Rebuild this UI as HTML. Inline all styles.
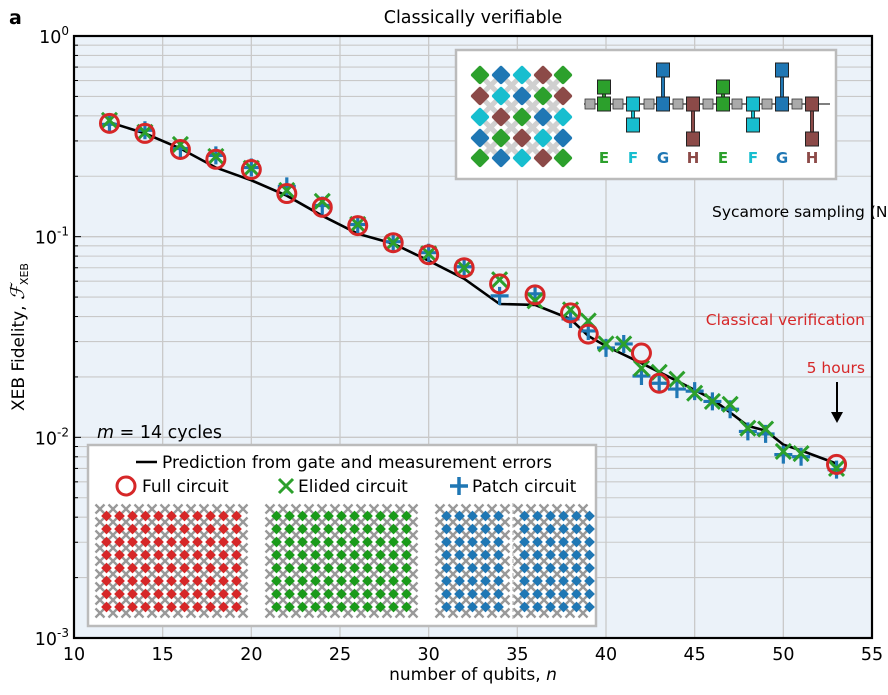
<!DOCTYPE html>
<html><head><meta charset="utf-8">
<style>
body{margin:0;background:#fff;width:888px;height:691px;overflow:hidden;font-family:"DejaVu Sans","Liberation Sans",sans-serif;}
svg text{font-family:"DejaVu Sans","Liberation Sans",sans-serif;}
</style></head>
<body>
<svg id="chart" width="888" height="691" viewBox="0 0 888 691" xmlns="http://www.w3.org/2000/svg">
<text x="9" y="24" font-size="19" font-weight="bold">a</text>
<text x="473" y="23" font-size="17.5" text-anchor="middle">Classically verifiable</text>
<rect x="74" y="36" width="798" height="602" fill="#ebf2f9"/>
<g id="grid"></g>
<g id="series"></g>
<g id="axes"></g>
<g id="annot"></g>
<g id="inset"></g>
<g id="legend"></g>
</svg>
<script>
const fullN=[12,14,16,18,20,22,24,26,28,30,32,34,36,38,39,42,43,53];
const fullF=[0.367,0.327,0.272,0.243,0.216,0.164,0.140,0.1135,0.0933,0.0813,0.070,0.0582,0.0513,0.0417,0.0327,0.0263,0.0186,0.00733];
const elidedN=[12,14,16,18,20,22,24,26,28,30,32,34,36,38,39,40,41,42,43,44,45,46,47,48,49,50,51,53];
const elidedF=[0.380,0.331,0.288,0.251,0.219,0.170,0.150,0.115,0.0933,0.0822,0.070,0.061,0.0479,0.0432,0.038,0.0292,0.0292,0.0221,0.0211,0.0195,0.0166,0.0151,0.0146,0.0111,0.0110,0.0085,0.0083,0.0070];
const patchN=[12,14,16,18,20,22,24,26,28,30,32,34,36,38,39,40,41,42,43,44,45,46,47,48,49,50,51,53];
const patchF=[0.363,0.339,0.275,0.254,0.221,0.178,0.143,0.115,0.0944,0.0832,0.0708,0.0507,0.0519,0.0389,0.0339,0.0279,0.0292,0.0202,0.0186,0.0174,0.0170,0.0151,0.0138,0.0107,0.0104,0.0082,0.0080,0.0069];
const predN=[12,14,16,18,20,22,24,26,28,30,32,34,36,38,39,40,42,44,46,48,49,50,51,53];
const predF=[0.372,0.327,0.275,0.221,0.191,0.160,0.127,0.1035,0.0923,0.0759,0.0617,0.0462,0.0457,0.0389,0.032,0.0285,0.0234,0.0191,0.0155,0.0114,0.0108,0.0092,0.0086,0.0074];
const xTicks=[10,15,20,25,30,35,40,45,50,55];
const yDecades=[0,-1,-2,-3];

const NS="http://www.w3.org/2000/svg";
const L=74,R=872,T=36,B=638;
const xs=n=>L+(n-10)*(R-L)/45;
const ys=v=>T-Math.log10(v)*(B-T)/3;
function mk(tag,attrs,parent){const e=document.createElementNS(NS,tag);for(const k in attrs)e.setAttribute(k,attrs[k]);parent.appendChild(e);return e;}
const grid=document.getElementById('grid'),axes=document.getElementById('axes'),series=document.getElementById('series');

for(const t of xTicks){const g=mk('line',{x1:xs(t),x2:xs(t),y1:T,y2:B,stroke:'#c9c9c9','stroke-width':1.3},grid);

}
for(let d=-3;d<0;d++){for(let m=1;m<10;m++){const v=m*Math.pow(10,d);const y=ys(v);
const g=mk('line',{x1:L,x2:R,y1:y,y2:y,stroke:'#c9c9c9','stroke-width':m===1?1.3:1.1},grid);


const tk=mk('line',{x1:L,x2:L+(m===1?7:4),y1:y,y2:y,stroke:'#000','stroke-width':1},axes);

}}

const fr=mk('rect',{x:L,y:T,width:R-L,height:B-T,fill:'none',stroke:'#000','stroke-width':2.2},axes);


for(const t of xTicks){const tx=mk('text',{x:xs(t),y:B+22,'font-size':17.5,'text-anchor':'middle'},axes);tx.textContent=t;

}
for(const d of yDecades){const y=ys(Math.pow(10,d));const tx=mk('text',{x:L-5,y:y+7,'font-size':17.5,'text-anchor':'end'},axes);
tx.innerHTML='10<tspan dy="-8" font-size="12">'+d+'</tspan>';

}
const xl=mk('text',{x:473,y:680,'font-size':17,'text-anchor':'middle'},axes);
xl.innerHTML='number of qubits, <tspan font-style="italic">n</tspan>';


const yl=mk('text',{x:0,y:0,'font-size':17,'text-anchor':'middle',transform:'translate(24,337) rotate(-90)'},axes);
yl.innerHTML='XEB Fidelity, <tspan font-family="Liberation Serif" font-style="italic" font-size="19">ℱ</tspan><tspan dy="4" font-size="11">XEB</tspan>';



let p='';predN.forEach((n,i)=>{p+=(i?'L':'M')+xs(n).toFixed(1)+','+ys(predF[i]).toFixed(1);});
const pl=mk('path',{d:p,fill:'none',stroke:'#000','stroke-width':2.6},series);


patchN.forEach((n,i)=>{const x=xs(n),y=ys(patchF[i]);
const g=mk('path',{d:`M${x-9},${y}H${x+9}M${x},${y-9}V${y+9}`,stroke:'#1f77b4','stroke-width':3.2,fill:'none'},series);

});
elidedN.forEach((n,i)=>{const x=xs(n),y=ys(elidedF[i]);
const g=mk('path',{d:`M${x-7.5},${y-7.5}L${x+7.5},${y+7.5}M${x-7.5},${y+7.5}L${x+7.5},${y-7.5}`,stroke:'#2ca02c','stroke-width':3,fill:'none'},series);

});
fullN.forEach((n,i)=>{const g=mk('circle',{cx:xs(n),cy:ys(fullF[i]),r:9,fill:'none',stroke:'#d62728','stroke-width':3},series);

});

const an=document.getElementById('annot');
let t1=mk('text',{x:712,y:217,'font-size':15.5},an);t1.textContent='Sycamore sampling (N';


let t2=mk('text',{x:865,y:325,'font-size':15.5,'text-anchor':'end',fill:'#d62728'},an);t2.textContent='Classical verification';


let t3=mk('text',{x:865,y:373,'font-size':15.5,'text-anchor':'end',fill:'#d62728'},an);t3.textContent='5 hours';


let ar=mk('path',{d:'M837,382V414',stroke:'#000','stroke-width':2},an);


let ah=mk('path',{d:'M831,412L837,423L843,412Z',fill:'#000'},an);


let t4=mk('text',{x:97,y:438,'font-size':17.5},an);t4.innerHTML='<tspan font-style="italic">m</tspan> = 14 cycles';



const ins=document.getElementById('inset');
let ib=mk('rect',{x:456,y:50,width:380,height:129,fill:'#fff',stroke:'#bbb','stroke-width':2.5},ins);


const C={E:'#2ca02c',F:'#17becf',G:'#1f77b4',H:'#8c4a48'};
const pat=[['E','G','F','H','E'],['H','F','G','E','H'],['F','H','E','G','F'],['G','E','H','F','G'],['E','G','F','H','E']];
const ix=[480,501,522,543,563],iy=[75,96,117,138,158];
for(let r=0;r<4;r++)for(let c=0;c<4;c++){const x=(ix[c]+ix[c+1])/2,y=(iy[r]+iy[r+1])/2;
mk('path',{d:`M${x-10},${y-10}L${x+10},${y+10}M${x-10},${y+10}L${x+10},${y-10}`,stroke:'#d0d0d0','stroke-width':5},ins);}
for(let r=0;r<5;r++)for(let c=0;c<5;c++){const x=ix[c],y=iy[r];
const d=mk('rect',{x:x-7,y:y-7,width:14,height:14,rx:2,fill:C[pat[r][c]],transform:`rotate(45 ${x} ${y})`},ins);

}
mk('line',{x1:584,x2:830,y1:104,y2:104,stroke:'#333','stroke-width':1.2},ins);
[590,618,649,678,708,737,767,797].forEach(x=>mk('rect',{x:x-5,y:99,width:10,height:10,fill:'#aaa',stroke:'#333','stroke-width':0.8},ins));
const gates=[['E',604,87],['F',633,125],['G',663,70],['H',693,139],['E',723,87],['F',753,125],['G',782,70],['H',812,139]];
gates.forEach(([k,x,y2])=>{
mk('line',{x1:x,x2:x,y1:104,y2:y2,stroke:'#222','stroke-width':4},ins);
mk('line',{x1:x,x2:x,y1:104,y2:y2,stroke:C[k],'stroke-width':2.5},ins);
mk('rect',{x:x-6.5,y:97,width:13,height:14,fill:C[k],stroke:'#222','stroke-width':1},ins);
mk('rect',{x:x-6.5,y:y2-7,width:13,height:14,fill:C[k],stroke:'#222','stroke-width':1},ins);
const t=mk('text',{x:x,y:163,'font-size':15,'font-weight':'bold','text-anchor':'middle',fill:C[k]},ins);t.textContent=k;

});

const lg=document.getElementById('legend');
let lb=mk('rect',{x:88,y:445,width:508,height:181,fill:'#fff',stroke:'#bbb','stroke-width':2.5},lg);


mk('line',{x1:136,x2:157,y1:462,y2:462,stroke:'#000','stroke-width':2.5},lg);
let l1=mk('text',{x:162,y:468,'font-size':17},lg);l1.textContent='Prediction from gate and measurement errors';


mk('circle',{cx:126,cy:486,r:9,fill:'none',stroke:'#d62728','stroke-width':3},lg);
let l2=mk('text',{x:142,y:492,'font-size':17},lg);l2.textContent='Full circuit';


mk('path',{d:'M279,479L293,493M279,493L293,479',stroke:'#2ca02c','stroke-width':3},lg);
let l3=mk('text',{x:298,y:492,'font-size':17},lg);l3.textContent='Elided circuit';


mk('path',{d:'M450,486H468M459,477V495',stroke:'#1f77b4','stroke-width':3.5},lg);
let l4=mk('text',{x:472,y:492,'font-size':17},lg);l4.textContent='Patch circuit';


function lattice(x0,x1,color,name,fadeX){
 const s=13;
 for(let y=509;y<=617;y+=s){for(let x=x0;x<=x1;x+=s){
  mk('path',{d:`M${x-4.5},${y-4.5}L${x+4.5},${y+4.5}M${x-4.5},${y+4.5}L${x+4.5},${y-4.5}`,stroke:'#999','stroke-width':2.4},lg);}}
 for(let y=516;y<=610;y+=s){for(let x=x0+6.5;x<x1;x+=s){
  const fade=fadeX&&Math.abs(x-fadeX)<4;
  const d=mk('rect',{x:x-3.8,y:y-3.8,width:7.6,height:7.6,fill:color,opacity:fade?0.35:1,transform:`rotate(45 ${x} ${y})`},lg);
  
  }}
}
lattice(100,243,'#d62728','full-lattice-qubit');
lattice(270,413,'#1a9a1a','elided-lattice-qubit',335);
lattice(440,508,'#1f77b4','patch-lattice-qubit');
lattice(518,590,'#1f77b4','patch-lattice-qubit');
mk('line',{x1:513,x2:513,y1:503,y2:620,stroke:'#aaa','stroke-width':1,'stroke-dasharray':'4,3'},lg);
</script>
</body></html>
